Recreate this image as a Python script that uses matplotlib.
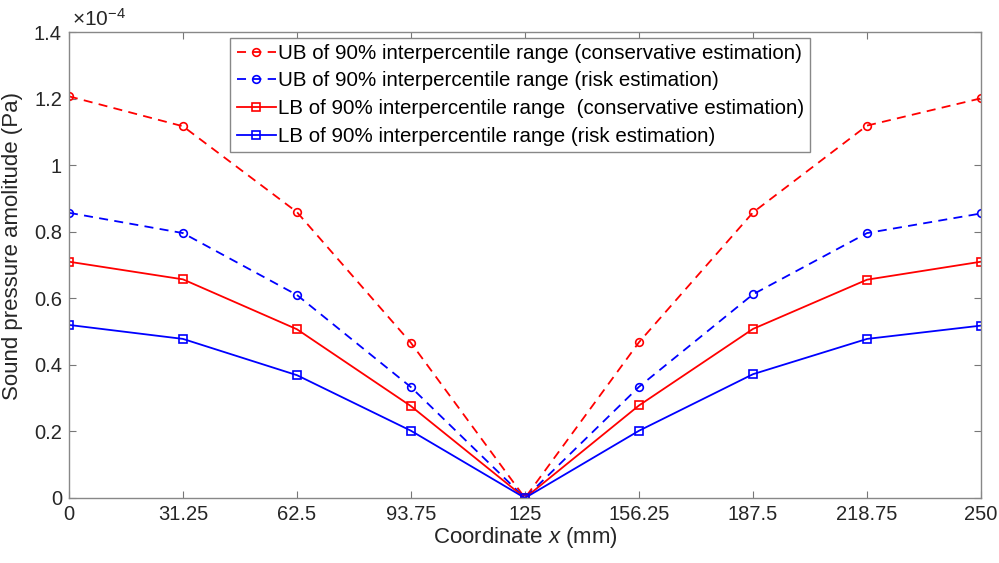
import matplotlib.pyplot as plt
import numpy as np

# values in units of 1e-4 Pa
x = [0, 31.25, 62.5, 93.75, 125, 156.25, 187.5, 218.75, 250]
ub_cons = [1.207, 1.117, 0.859, 0.466, 0.0, 0.468, 0.858, 1.119, 1.201]
ub_risk = [0.857, 0.796, 0.610, 0.333, 0.0, 0.334, 0.612, 0.796, 0.855]
lb_cons = [0.710, 0.657, 0.507, 0.276, 0.0, 0.278, 0.508, 0.656, 0.710]
lb_risk = [0.520, 0.478, 0.369, 0.202, 0.0, 0.202, 0.372, 0.478, 0.518]

labels = [
    "UB of 90% interpercentile range (conservative estimation)",
    "UB of 90% interpercentile range (risk estimation)",
    "LB of 90% interpercentile range  (conservative estimation)",
    "LB of 90% interpercentile range (risk estimation)",
]
xticks = [0, 31.25, 62.5, 93.75, 125, 156.25, 187.5, 218.75, 250]
xticklabels = ["0", "31.25", "62.5", "93.75", "125", "156.25", "187.5", "218.75", "250"]
yticks = [0, 0.2, 0.4, 0.6, 0.8, 1.0, 1.2, 1.4]
yticklabels = ["0", "0.2", "0.4", "0.6", "0.8", "1", "1.2", "1.4"]

plt.rcParams['font.family'] = ['Liberation Sans', 'DejaVu Sans']
plt.rcParams['mathtext.fontset'] = 'custom'
plt.rcParams['mathtext.it'] = 'Liberation Sans:italic'
plt.rcParams['mathtext.rm'] = 'Liberation Sans'

fig = plt.figure(figsize=(9.99, 5.63), dpi=100)
ax = fig.add_axes([0.069, 0.1155, 0.913, 0.8275])

dash = (0, (5, 3.5))
kw = dict(lw=1.3, ms=5.5, mew=1.2, mfc='none')
ax.plot(x, ub_cons, color='red', ls=dash, marker='o', label=labels[0], **kw)
ax.plot(x, ub_risk, color='blue', ls=dash, marker='o', label=labels[1], **kw)
ax.plot(x, lb_cons, color='red', ls='-', marker='s', label=labels[2], **kw)
ax.plot(x, lb_risk, color='blue', ls='-', marker='s', label=labels[3], **kw)

ax.set_xlim(0, 250)
ax.set_ylim(0, 1.4)
ax.set_xticks(xticks)
ax.set_xticklabels(xticklabels)
ax.set_yticks(yticks)
ax.set_yticklabels(yticklabels)
ax.tick_params(direction='in', top=True, right=True, labelsize=14.5,
               color='#777777', labelcolor='#262626', length=5, width=0.8, pad=5)
for s in ax.spines.values():
    s.set_color('#888888')
    s.set_linewidth(1.0)

ax.set_xlabel("Coordinate $\\mathit{x}$ (mm)", fontsize=16, color='#262626', labelpad=1)
ax.set_ylabel("Sound pressure amolitude (Pa)", fontsize=16, color='#262626')
ax.yaxis.set_label_coords(-0.05, 0.54)
ax.text(0.003, 1.005, "$\\times10^{-4}$", transform=ax.transAxes, fontsize=15,
        color='#262626', va='bottom', ha='left')

leg = ax.legend(loc='upper left', bbox_to_anchor=(0.177, 0.988), fontsize=14.8,
                handlelength=1.9, handletextpad=0.1, borderpad=0.3,
                labelspacing=0.42, borderaxespad=0, fancybox=False, framealpha=1)
leg.get_frame().set_edgecolor('#888888')
leg.get_frame().set_linewidth(1.0)

fig.savefig("out.png", dpi=100)
